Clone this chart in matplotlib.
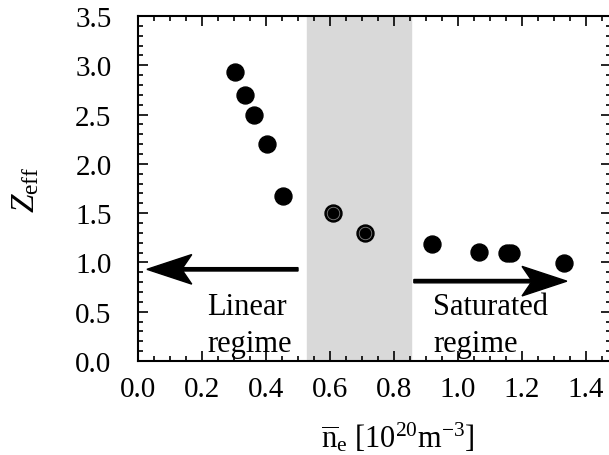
import matplotlib
matplotlib.use("Agg")
import matplotlib.pyplot as plt
from matplotlib.ticker import MultipleLocator

plt.rcParams['font.family'] = ['Liberation Serif', 'DejaVu Serif']
plt.rcParams['mathtext.fontset'] = 'custom'
plt.rcParams['mathtext.rm'] = 'Liberation Serif'
plt.rcParams['mathtext.it'] = 'Liberation Serif:italic'

# data
ne = [0.303, 0.334, 0.363, 0.403, 0.453, 0.609, 0.709, 0.919, 1.066, 1.153, 1.167, 1.33]
zeff = [2.93, 2.70, 2.50, 2.20, 1.67, 1.50, 1.30, 1.19, 1.11, 1.10, 1.10, 0.99]
ringed = [5, 6]   # points drawn with a grey inner ring
band = (0.528, 0.853)

fig = plt.figure(figsize=(6.09, 4.56), dpi=100)
ax = fig.add_axes([138/609, 94/456, 473/609, 345/456])

ax.axvspan(band[0], band[1], color='#d9d9d9', zorder=0)
ax.plot(ne, zeff, 'o', color='black', markersize=12.2, zorder=3)
ax.plot([ne[i] for i in ringed], [zeff[i] for i in ringed], 'o', mfc='none',
        mec='#808080', mew=0.6, markersize=9, zorder=4)

# regime arrows
ax.arrow(0.50, 0.93, -0.472, 0, width=0.034, head_width=0.30, head_length=0.14,
         overhang=0.2, length_includes_head=True, color='black', zorder=3)
ax.arrow(0.862, 0.81, 0.478, 0, width=0.034, head_width=0.30, head_length=0.14,
         overhang=0.2, length_includes_head=True, color='black', zorder=3)

ax.text(0.216, 0.48, 'Linear', fontsize=22, ha='left', va='baseline')
ax.text(0.216, 0.10, 'regime', fontsize=22, ha='left', va='baseline')
ax.text(0.922, 0.48, 'Saturated', fontsize=22, ha='left', va='baseline')
ax.text(0.922, 0.10, 'regime', fontsize=22, ha='left', va='baseline')

ax.set_xlim(0, 1.478)
ax.set_ylim(0, 3.5)
ax.xaxis.set_major_locator(MultipleLocator(0.2))
ax.xaxis.set_minor_locator(MultipleLocator(0.05))
ax.yaxis.set_major_locator(MultipleLocator(0.5))
ax.yaxis.set_minor_locator(MultipleLocator(0.1))
ax.xaxis.set_major_formatter(plt.FormatStrFormatter('%.1f'))
ax.yaxis.set_major_formatter(plt.FormatStrFormatter('%.1f'))
ax.tick_params(which='both', direction='in', top=True, right=True, labelsize=21, width=1.2)
ax.tick_params(which='major', length=7)
ax.tick_params(which='minor', length=3.5)
ax.tick_params(axis='x', which='major', pad=11)
ax.tick_params(axis='y', which='major', pad=19)
for s in ax.spines.values():
    s.set_linewidth(1.5)

fig.text(398/609, 1 - 438/456,
         r'$\overline{\mathregular{n}}_\mathregular{e}$ [10$^{\mathregular{20}}$m$^{\mathregular{-3}}$]',
         fontsize=22, ha='center', va='center')
fig.text(26/609, 1 - 190/456, r'$Z_\mathregular{eff}$', fontsize=24,
         rotation=90, ha='center', va='center')

fig.savefig('out.png', dpi=100)
